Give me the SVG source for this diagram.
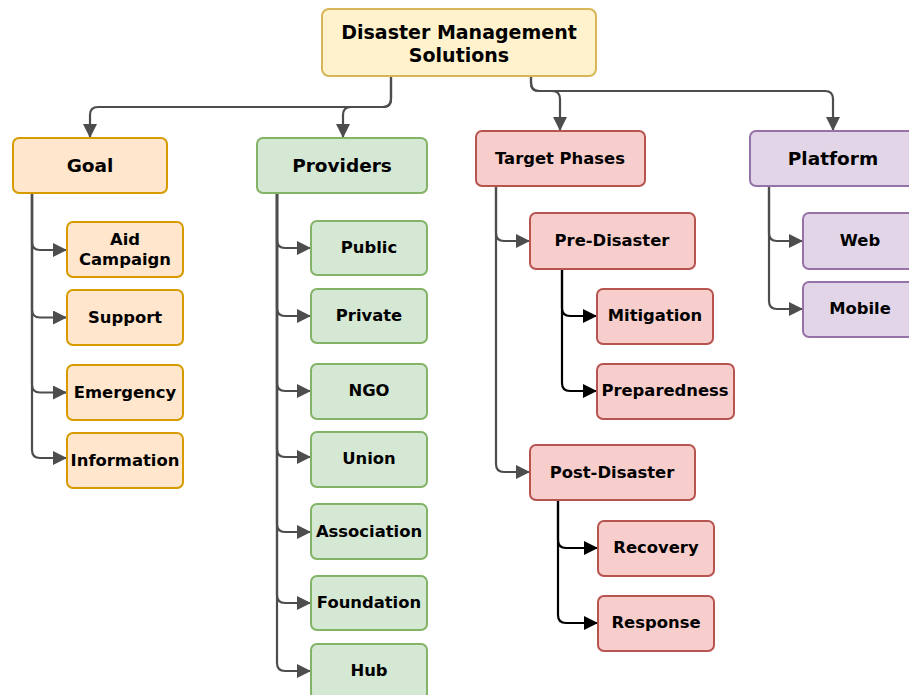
<svg xmlns="http://www.w3.org/2000/svg" width="909" height="695" viewBox="0 0 909 695">
<defs>
<style>
.n{stroke-width:2}
.y{fill:#fff2cc;stroke:#d6b656}
.o{fill:#ffe6cc;stroke:#d79b00}
.g{fill:#d5e8d4;stroke:#82b366}
.r{fill:#f8cecc;stroke:#b85450}
.p{fill:#e1d5e7;stroke:#9673a6}
text{font-family:"DejaVu Sans","Verdana",sans-serif;font-weight:bold;fill:#000;text-anchor:middle;dominant-baseline:central}
.t{font-size:19px}
.h{font-size:18.5px}
.s{font-size:16.4px}
.e{fill:none;stroke-width:2.2}
.eg{stroke:#4d4d4d}
.ek{stroke:#000}
</style>
<marker id="ag" markerUnits="userSpaceOnUse" markerWidth="14" markerHeight="14" refX="14" refY="7" orient="auto" viewBox="0 0 14 14">
<path d="M0,0 L14,7 L0,14 z" fill="#4d4d4d"/>
</marker>
<marker id="ak" markerUnits="userSpaceOnUse" markerWidth="14" markerHeight="14" refX="14" refY="7" orient="auto" viewBox="0 0 14 14">
<path d="M0,0 L14,7 L0,14 z" fill="#000"/>
</marker>
</defs>
<g id="connectors">
<path class="e eg" marker-end="url(#ag)" d="M391,77 V99 Q391,107 383,107 H98 Q90,107 90,115 V138"/>
<path class="e eg" marker-end="url(#ag)" d="M391,77 V99 Q391,107 383,107 H351 Q343,107 343,115 V138"/>
<path class="e eg" marker-end="url(#ag)" d="M531,77 V83 Q531,91 539,91 H552 Q560,91 560,99 V131"/>
<path class="e eg" marker-end="url(#ag)" d="M531,77 V83 Q531,91 539,91 H825 Q833,91 833,99 V131"/>
<path class="e eg" marker-end="url(#ag)" d="M32,193 V242 Q32,250 40,250 H67"/>
<path class="e eg" marker-end="url(#ag)" d="M32,193 V309.5 Q32,317.5 40,317.5 H67"/>
<path class="e eg" marker-end="url(#ag)" d="M32,193 V384.5 Q32,392.5 40,392.5 H67"/>
<path class="e eg" marker-end="url(#ag)" d="M32,193 V450 Q32,458 40,458 H67"/>
<path class="e eg" marker-end="url(#ag)" d="M277,193 V240 Q277,248 285,248 H311"/>
<path class="e eg" marker-end="url(#ag)" d="M277,193 V308 Q277,316 285,316 H311"/>
<path class="e eg" marker-end="url(#ag)" d="M277,193 V383 Q277,391 285,391 H311"/>
<path class="e eg" marker-end="url(#ag)" d="M277,193 V449 Q277,457 285,457 H311"/>
<path class="e eg" marker-end="url(#ag)" d="M277,193 V524 Q277,532 285,532 H311"/>
<path class="e eg" marker-end="url(#ag)" d="M277,193 V595 Q277,603 285,603 H311"/>
<path class="e eg" marker-end="url(#ag)" d="M277,193 V663 Q277,671 285,671 H311"/>
<path class="e eg" marker-end="url(#ag)" d="M496,186 V233 Q496,241 504,241 H530"/>
<path class="e eg" marker-end="url(#ag)" d="M496,186 V464 Q496,472 504,472 H530"/>
<path class="e ek" marker-end="url(#ak)" d="M562,269 V308 Q562,316 570,316 H597"/>
<path class="e ek" marker-end="url(#ak)" d="M562,269 V383 Q562,391 570,391 H597"/>
<path class="e ek" marker-end="url(#ak)" d="M558,500 V540 Q558,548 566,548 H598"/>
<path class="e ek" marker-end="url(#ak)" d="M558,500 V615 Q558,623 566,623 H598"/>
<path class="e eg" marker-end="url(#ag)" d="M769,186 V233 Q769,241 777,241 H803"/>
<path class="e eg" marker-end="url(#ag)" d="M769,186 V301 Q769,309 777,309 H803"/>
</g>
<g id="root"><rect class="n y" x="322" y="9" width="274" height="67" rx="7"/><text class="t" x="459" y="32">Disaster Management</text><text class="t" x="459" y="55">Solutions</text></g>
<g id="goal"><rect class="n o" x="13" y="138" width="154" height="55" rx="6"/><text class="h" x="90" y="165">Goal</text></g>
<g id="aid"><rect class="n o" x="67" y="222" width="116" height="55" rx="6"/><text class="s" x="125" y="239">Aid</text><text class="s" x="125" y="259">Campaign</text></g>
<g id="support"><rect class="n o" x="67" y="290" width="116" height="55" rx="6"/><text class="s" x="125" y="317">Support</text></g>
<g id="emergency"><rect class="n o" x="67" y="365" width="116" height="55" rx="6"/><text class="s" x="125" y="392">Emergency</text></g>
<g id="information"><rect class="n o" x="67" y="433" width="116" height="55" rx="6"/><text class="s" x="125" y="460">Information</text></g>
<g id="providers"><rect class="n g" x="257" y="138" width="170" height="55" rx="6"/><text class="h" x="342" y="165">Providers</text></g>
<g id="public"><rect class="n g" x="311" y="221" width="116" height="54" rx="6"/><text class="s" x="369" y="247">Public</text></g>
<g id="private"><rect class="n g" x="311" y="289" width="116" height="54" rx="6"/><text class="s" x="369" y="315">Private</text></g>
<g id="ngo"><rect class="n g" x="311" y="364" width="116" height="55" rx="6"/><text class="s" x="369" y="390">NGO</text></g>
<g id="union"><rect class="n g" x="311" y="432" width="116" height="55" rx="6"/><text class="s" x="369" y="458">Union</text></g>
<g id="association"><rect class="n g" x="311" y="504" width="116" height="55" rx="6"/><text class="s" x="369" y="531">Association</text></g>
<g id="foundation"><rect class="n g" x="311" y="576" width="116" height="54" rx="6"/><text class="s" x="369" y="602">Foundation</text></g>
<g id="hub"><rect class="n g" x="311" y="644" width="116" height="55" rx="6"/><text class="s" x="369" y="670">Hub</text></g>
<g id="target"><rect class="n r" x="476" y="131" width="169" height="55" rx="6"/><text class="s" x="560" y="158">Target Phases</text></g>
<g id="pre"><rect class="n r" x="530" y="213" width="165" height="56" rx="6"/><text class="s" x="612" y="240">Pre-Disaster</text></g>
<g id="mitigation"><rect class="n r" x="597" y="289" width="116" height="55" rx="6"/><text class="s" x="655" y="315">Mitigation</text></g>
<g id="preparedness"><rect class="n r" x="597" y="364" width="137" height="55" rx="6"/><text class="s" x="665" y="390">Preparedness</text></g>
<g id="post"><rect class="n r" x="530" y="445" width="165" height="55" rx="6"/><text class="s" x="612" y="472">Post-Disaster</text></g>
<g id="recovery"><rect class="n r" x="598" y="521" width="116" height="55" rx="6"/><text class="s" x="656" y="547">Recovery</text></g>
<g id="response"><rect class="n r" x="598" y="596" width="116" height="55" rx="6"/><text class="s" x="656" y="622">Response</text></g>
<g id="platform"><rect class="n p" x="750" y="131" width="167" height="55" rx="6"/><text class="h" x="833" y="158">Platform</text></g>
<g id="web"><rect class="n p" x="803" y="213" width="115" height="56" rx="6"/><text class="s" x="860" y="240">Web</text></g>
<g id="mobile"><rect class="n p" x="803" y="282" width="115" height="55" rx="6"/><text class="s" x="860" y="308">Mobile</text></g>
</svg>
